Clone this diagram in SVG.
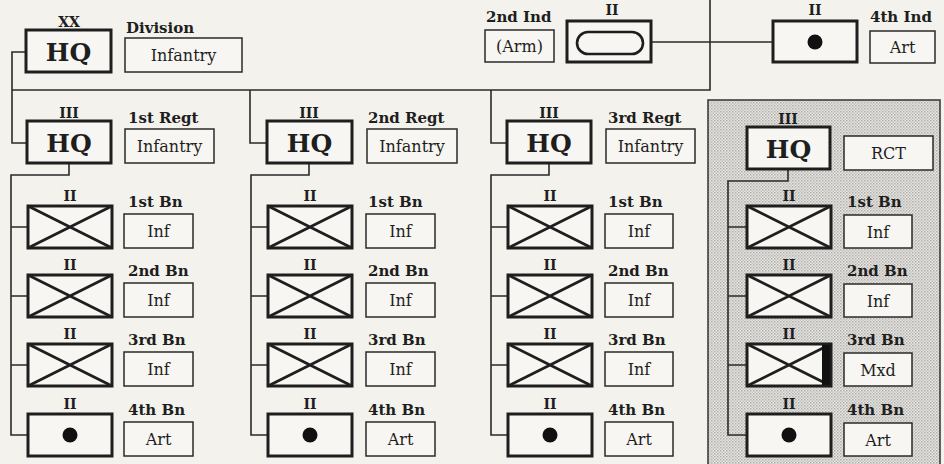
<svg xmlns="http://www.w3.org/2000/svg" width="944" height="464" viewBox="0 0 944 464">
<defs>
<style>
.bg{fill:#f4f2ec}
.unit{fill:#f7f6f2;stroke:#1e1e1e;stroke-width:3}
.lab{fill:#f7f6f2;stroke:#2a2a2a;stroke-width:1.5}
.x{stroke:#1e1e1e;stroke-width:2.8;fill:none}
.ln{stroke:#2a2a2a;stroke-width:1.6;fill:none}
.t{font-family:"DejaVu Serif","Liberation Serif",serif;fill:#1e1e1e}
.b{font-weight:bold;font-size:15px}
.ech{font-weight:bold;font-size:14px;text-anchor:middle}
.hq{font-weight:bold;font-size:25px;text-anchor:middle}
.in{font-size:16px;text-anchor:middle}
</style>
<pattern id="dots" width="3" height="3" patternUnits="userSpaceOnUse">
<rect width="3" height="3" fill="#e6e5e1"/>
<rect width="1.5" height="1.5" fill="#b0afab"/>
<rect x="1.5" y="1.5" width="1.5" height="1.5" fill="#c4c3bf"/>
</pattern>
<g id="inf">
<rect class="unit" x="0" y="0" width="84" height="42"/>
<path class="x" d="M0 0L84 42M84 0L0 42"/>
</g>
<g id="art">
<rect class="unit" x="0" y="0" width="84" height="42"/>
<circle cx="42" cy="21" r="7.5" fill="#111"/>
</g>
</defs>
<rect class="bg" width="944" height="464"/>
<rect id="rct-area" x="708" y="100" width="232" height="370" fill="url(#dots)" stroke="#333" stroke-width="1.5"/>

<g id="connectors">
<path class="ln" d="M26 52H12V143H27"/>
<path class="ln" d="M12 90H710V0"/>
<path class="ln" d="M250 90V143H267"/>
<path class="ln" d="M491 90V143H507"/>
<path class="ln" d="M651 42H773"/>
<path class="ln" d="M69 163V175H11V435H28M11 227H28M11 296H28M11 365H28"/>
<path class="ln" d="M309 163V175H251V435H268M251 227H268M251 296H268M251 365H268"/>
<path class="ln" d="M549 163V175H491V435H508M491 227H508M491 296H508M491 365H508"/>
<path class="ln" d="M788 169V181H728V435H748M728 227H748M728 296H748M728 365H748"/>
</g>

<g id="division">
<text class="t ech" x="69" y="27">XX</text>
<rect class="unit" x="26" y="30" width="85" height="42"/>
<text class="t hq" x="68.5" y="61">HQ</text>
<text class="t b" x="126" y="33">Division</text>
<rect class="lab" x="125" y="38" width="117" height="34"/>
<text class="t in" x="183.5" y="61">Infantry</text>
</g>

<g id="ind2">
<text class="t b" x="486" y="22">2nd Ind</text>
<rect class="lab" x="485" y="30" width="69" height="32"/>
<text class="t in" x="519.5" y="52">(Arm)</text>
<text class="t ech" x="612" y="15">II</text>
<rect class="unit" x="567" y="21" width="84" height="41"/>
<rect x="577" y="32" width="66" height="22" rx="11" fill="none" stroke="#1e1e1e" stroke-width="2.6"/>
</g>

<g id="ind4">
<text class="t ech" x="815" y="15">II</text>
<rect class="unit" x="773" y="21" width="84" height="41"/>
<circle cx="815" cy="42" r="7.5" fill="#111"/>
<text class="t b" x="870" y="22">4th Ind</text>
<rect class="lab" x="870" y="31" width="65" height="32"/>
<text class="t in" x="902.5" y="53">Art</text>
</g>

<!-- Regiment 1 -->
<g id="regt1">
<text class="t ech" x="69" y="118">III</text>
<rect class="unit" x="27" y="121" width="84" height="42"/>
<text class="t hq" x="69" y="152">HQ</text>
<text class="t b" x="128" y="123">1st Regt</text>
<rect class="lab" x="125" y="129" width="89" height="34"/>
<text class="t in" x="169.5" y="152">Infantry</text>
</g>
<g id="r1b1"><text class="t ech" x="70" y="201">II</text><use href="#inf" x="28" y="206"/><text class="t b" x="128" y="207">1st Bn</text><rect class="lab" x="124" y="214" width="69" height="34"/><text class="t in" x="158.5" y="237">Inf</text></g>
<g id="r1b2"><text class="t ech" x="70" y="270">II</text><use href="#inf" x="28" y="275"/><text class="t b" x="128" y="276">2nd Bn</text><rect class="lab" x="124" y="283" width="69" height="34"/><text class="t in" x="158.5" y="306">Inf</text></g>
<g id="r1b3"><text class="t ech" x="70" y="339">II</text><use href="#inf" x="28" y="344"/><text class="t b" x="128" y="345">3rd Bn</text><rect class="lab" x="124" y="352" width="69" height="34"/><text class="t in" x="158.5" y="375">Inf</text></g>
<g id="r1b4"><text class="t ech" x="70" y="409">II</text><use href="#art" x="28" y="414"/><text class="t b" x="128" y="415">4th Bn</text><rect class="lab" x="124" y="422" width="69" height="34"/><text class="t in" x="158.5" y="445">Art</text></g>

<!-- Regiment 2 -->
<g id="regt2">
<text class="t ech" x="309" y="118">III</text>
<rect class="unit" x="267" y="121" width="85" height="42"/>
<text class="t hq" x="309.5" y="152">HQ</text>
<text class="t b" x="368" y="123">2nd Regt</text>
<rect class="lab" x="367" y="129" width="90" height="34"/>
<text class="t in" x="412" y="152">Infantry</text>
</g>
<g id="r2b1"><text class="t ech" x="310" y="201">II</text><use href="#inf" x="268" y="206"/><text class="t b" x="368" y="207">1st Bn</text><rect class="lab" x="366" y="214" width="69" height="34"/><text class="t in" x="400.5" y="237">Inf</text></g>
<g id="r2b2"><text class="t ech" x="310" y="270">II</text><use href="#inf" x="268" y="275"/><text class="t b" x="368" y="276">2nd Bn</text><rect class="lab" x="366" y="283" width="69" height="34"/><text class="t in" x="400.5" y="306">Inf</text></g>
<g id="r2b3"><text class="t ech" x="310" y="339">II</text><use href="#inf" x="268" y="344"/><text class="t b" x="368" y="345">3rd Bn</text><rect class="lab" x="366" y="352" width="69" height="34"/><text class="t in" x="400.5" y="375">Inf</text></g>
<g id="r2b4"><text class="t ech" x="310" y="409">II</text><use href="#art" x="268" y="414"/><text class="t b" x="368" y="415">4th Bn</text><rect class="lab" x="366" y="422" width="69" height="34"/><text class="t in" x="400.5" y="445">Art</text></g>

<!-- Regiment 3 -->
<g id="regt3">
<text class="t ech" x="549" y="118">III</text>
<rect class="unit" x="507" y="121" width="84" height="42"/>
<text class="t hq" x="549" y="152">HQ</text>
<text class="t b" x="608" y="123">3rd Regt</text>
<rect class="lab" x="606" y="129" width="89" height="34"/>
<text class="t in" x="650.5" y="152">Infantry</text>
</g>
<g id="r3b1"><text class="t ech" x="550" y="201">II</text><use href="#inf" x="508" y="206"/><text class="t b" x="608" y="207">1st Bn</text><rect class="lab" x="605" y="214" width="68" height="34"/><text class="t in" x="639" y="237">Inf</text></g>
<g id="r3b2"><text class="t ech" x="550" y="270">II</text><use href="#inf" x="508" y="275"/><text class="t b" x="608" y="276">2nd Bn</text><rect class="lab" x="605" y="283" width="68" height="34"/><text class="t in" x="639" y="306">Inf</text></g>
<g id="r3b3"><text class="t ech" x="550" y="339">II</text><use href="#inf" x="508" y="344"/><text class="t b" x="608" y="345">3rd Bn</text><rect class="lab" x="605" y="352" width="68" height="34"/><text class="t in" x="639" y="375">Inf</text></g>
<g id="r3b4"><text class="t ech" x="550" y="409">II</text><use href="#art" x="508" y="414"/><text class="t b" x="608" y="415">4th Bn</text><rect class="lab" x="605" y="422" width="68" height="34"/><text class="t in" x="639" y="445">Art</text></g>

<!-- RCT -->
<g id="rct">
<text class="t ech" x="788" y="124">III</text>
<rect class="unit" x="747" y="127" width="83" height="42"/>
<text class="t hq" x="788.5" y="158">HQ</text>
<rect class="lab" x="844" y="136" width="89" height="34"/>
<text class="t in" x="888.5" y="159">RCT</text>
</g>
<g id="rb1"><text class="t ech" x="789" y="201">II</text><use href="#inf" x="747" y="206"/><text class="t b" x="847" y="207">1st Bn</text><rect class="lab" x="844" y="215" width="68" height="33"/><text class="t in" x="878" y="238">Inf</text></g>
<g id="rb2"><text class="t ech" x="789" y="270">II</text><use href="#inf" x="747" y="275"/><text class="t b" x="847" y="276">2nd Bn</text><rect class="lab" x="844" y="284" width="68" height="33"/><text class="t in" x="878" y="307">Inf</text></g>
<g id="rb3"><text class="t ech" x="789" y="339">II</text><use href="#inf" x="747" y="344"/><rect x="822" y="345" width="8" height="40" fill="#111"/><text class="t b" x="847" y="345">3rd Bn</text><rect class="lab" x="844" y="353" width="68" height="33"/><text class="t in" x="878" y="376">Mxd</text></g>
<g id="rb4"><text class="t ech" x="789" y="409">II</text><use href="#art" x="747" y="414"/><text class="t b" x="847" y="415">4th Bn</text><rect class="lab" x="844" y="423" width="68" height="33"/><text class="t in" x="878" y="446">Art</text></g>
</svg>
